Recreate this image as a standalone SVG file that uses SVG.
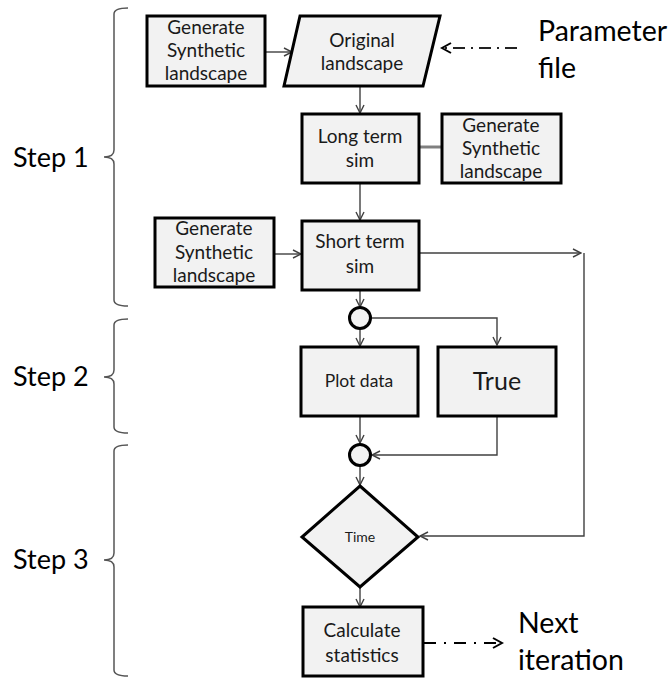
<svg xmlns="http://www.w3.org/2000/svg" width="671" height="679" viewBox="0 0 671 679">
<defs>
<marker id="arr" markerWidth="10" markerHeight="10" refX="9" refY="5" orient="auto" markerUnits="userSpaceOnUse">
<path d="M1,1 L9,5 L1,9" fill="none" stroke="#404040" stroke-width="1.4"/>
</marker>
<marker id="arrK" markerWidth="12" markerHeight="12" refX="10" refY="6" orient="auto" markerUnits="userSpaceOnUse">
<path d="M1,1 L10,6 L1,11" fill="none" stroke="#000" stroke-width="2"/>
</marker>
</defs>
<style>
.box{fill:#f2f2f2;stroke:none}
.bd{fill:none;stroke:#000;stroke-width:3}
.t{font-family:Lato,"Open Sans","Liberation Sans",sans-serif;fill:#1a1a1a;text-anchor:middle}
.s18{font-size:19px}
.big{font-family:Lato,"Open Sans","Liberation Sans",sans-serif;fill:#000;font-size:27px}
.lab{font-family:Lato,"Open Sans","Liberation Sans",sans-serif;fill:#000;font-size:28.5px}
.c{fill:none;stroke:#404040;stroke-width:1.4}
.br{fill:none;stroke:#555;stroke-width:1.5}
</style>

<g id="brackets">
<path class="br" d="M128,8 Q114,8 114,14 L114,150 Q114,157 104,157 Q114,157 114,164 L114,300 Q114,306 128,306"/>
<path class="br" d="M128,319 Q114,319 114,325 L114,370 Q114,377 104,377 Q114,377 114,384 L114,427 Q114,433 128,433"/>
<path class="br" d="M128,445 Q114,445 114,451 L114,553 Q114,560 104,560 Q114,560 114,567 L114,670 Q114,676 128,676"/>
</g>
<g id="step1"><text class="big" x="13" y="167">Step 1</text></g>
<g id="step2"><text class="big" x="13" y="386">Step 2</text></g>
<g id="step3"><text class="big" x="13" y="569">Step 3</text></g>

<g id="connectors">
<line class="c" x1="265" y1="52" x2="292" y2="52" marker-end="url(#arr)"/>
<line x1="517" y1="48" x2="442" y2="48" stroke="#222" stroke-width="2" stroke-dasharray="12,6,2,6" marker-end="url(#arrK)"/>
<line class="c" x1="360" y1="86" x2="360" y2="113" marker-end="url(#arr)"/>
<line x1="442" y1="147" x2="416" y2="147" stroke="#808080" stroke-width="3"/>
<circle cx="416" cy="147" r="1.8" fill="#333"/>
<line class="c" x1="360" y1="183" x2="360" y2="220" marker-end="url(#arr)"/>
<line class="c" x1="274" y1="254" x2="301" y2="254" marker-end="url(#arr)"/>
<line class="c" x1="420" y1="253" x2="581" y2="253" marker-end="url(#arr)"/>
<polyline class="c" points="584,253 584,536 420,536" marker-end="url(#arr)"/>
<line class="c" x1="360" y1="290" x2="360" y2="307" marker-end="url(#arr)"/>
<polyline class="c" points="371,318 497,318 497,345" marker-end="url(#arr)"/>
<line class="c" x1="360" y1="329" x2="360" y2="346" marker-end="url(#arr)"/>
<line class="c" x1="360" y1="416" x2="360" y2="443" marker-end="url(#arr)"/>
<polyline class="c" points="497,416 497,455 372,455" marker-end="url(#arr)"/>
<line class="c" x1="360" y1="465" x2="360" y2="485" marker-end="url(#arr)"/>
<line class="c" x1="360" y1="587" x2="360" y2="607" marker-end="url(#arr)"/>
<line x1="424" y1="643" x2="502" y2="643" stroke="#000" stroke-width="2" stroke-dasharray="12,8,2,8" marker-end="url(#arrK)"/>
</g>

<g id="gen1">
<rect class="box" x="147" y="16" width="118" height="70"/>
<text class="t s18" x="206" y="34">Generate</text>
<text class="t s18" x="206" y="57">Synthetic</text>
<text class="t s18" x="206" y="80">landscape</text>
<rect class="bd" x="147" y="16" width="118" height="70"/>
</g>

<g id="original">
<polygon points="300,16 440,16 423,86 284,86" fill="#f2f2f2" stroke="#000" stroke-width="3"/>
<text class="t s18" x="362" y="47">Original</text>
<text class="t s18" x="362" y="70">landscape</text>
</g>

<g id="paramfile">
<text class="lab" x="538" y="41">Parameter</text>
<text class="lab" x="538" y="78">file</text>
</g>

<g id="longterm">
<rect class="box" x="302" y="114" width="117" height="69"/>
<text class="t s18" x="360" y="143">Long term</text>
<text class="t s18" x="360" y="167">sim</text>
<rect class="bd" x="302" y="114" width="117" height="69"/>
</g>

<g id="gen2">
<rect class="box" x="442" y="114" width="119" height="69"/>
<text class="t s18" x="501" y="132">Generate</text>
<text class="t s18" x="501" y="155">Synthetic</text>
<text class="t s18" x="501" y="178">landscape</text>
<rect class="bd" x="442" y="114" width="119" height="69"/>
</g>

<g id="gen3">
<rect class="box" x="155" y="218" width="119" height="69"/>
<text class="t s18" x="214" y="235">Generate</text>
<text class="t s18" x="214" y="259">Synthetic</text>
<text class="t s18" x="214" y="282">landscape</text>
<rect class="bd" x="155" y="218" width="119" height="69"/>
</g>

<g id="shortterm">
<rect class="box" x="302" y="221" width="117" height="69"/>
<text class="t s18" x="360" y="248">Short term</text>
<text class="t s18" x="360" y="273">sim</text>
<rect class="bd" x="302" y="221" width="117" height="69"/>
</g>

<g id="junction1">
<circle cx="360" cy="318" r="10.5" fill="#f2f2f2" stroke="#000" stroke-width="3"/>
</g>

<g id="plotdata">
<rect class="box" x="301" y="347" width="117" height="69"/>
<text class="t" style="font-size:17.5px" x="359" y="387">Plot data</text>
<rect class="bd" x="301" y="347" width="117" height="69"/>
</g>

<g id="true">
<rect class="box" x="438" y="347" width="118" height="69"/>
<text class="t" style="font-size:25px" x="497" y="390">True</text>
<rect class="bd" x="438" y="347" width="118" height="69"/>
</g>

<g id="junction2">
<circle cx="360" cy="455" r="10.5" fill="#f2f2f2" stroke="#000" stroke-width="3"/>
</g>

<g id="time">
<polygon points="360,486 418,537 360,587 302,537" fill="#f2f2f2" stroke="#000" stroke-width="3"/>
<text class="t" style="font-size:14px" x="360" y="542">Time</text>
</g>

<g id="calc">
<rect class="box" x="303" y="607" width="120" height="69"/>
<text class="t s18" x="362" y="637">Calculate</text>
<text class="t s18" x="362" y="662">statistics</text>
<rect class="bd" x="303" y="607" width="120" height="69"/>
</g>

<g id="next">
<text class="lab" x="518" y="633">Next</text>
<text class="lab" x="518" y="670">iteration</text>
</g>
</svg>
